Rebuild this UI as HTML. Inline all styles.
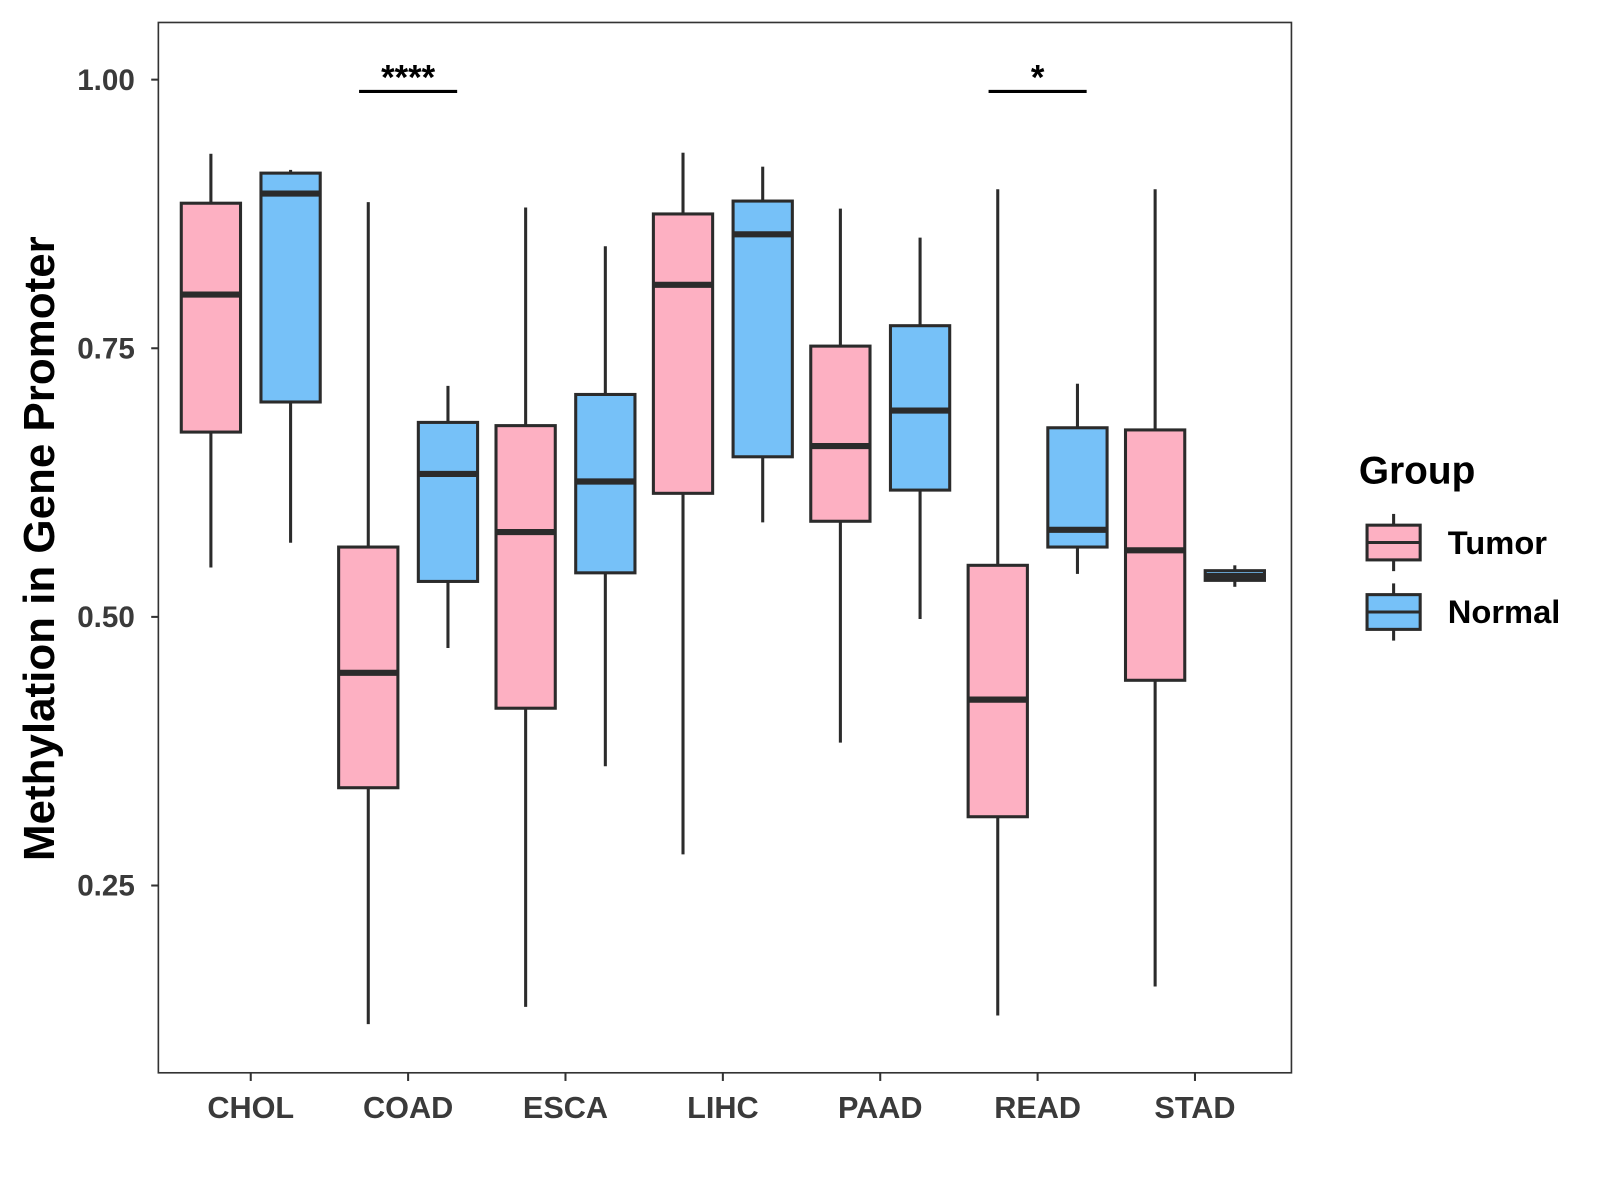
<!DOCTYPE html>
<html><head><meta charset="utf-8"><style>html,body{margin:0;padding:0;background:#fff;}svg{display:block}</style></head>
<body>
<svg id="chart" width="1600" height="1200" viewBox="0 0 1566 1174.5" xmlns="http://www.w3.org/2000/svg" font-family="'Liberation Sans', sans-serif">
<rect width="1566" height="1174.5" fill="#fff"/>
<g id="plot"></g>
</svg>
<script>
const categories = ["CHOL","COAD","ESCA","LIHC","PAAD","READ","STAD"];
// [whiskerHigh, Q3, median, Q1, whiskerLow]
const tumorStats = [
 [0.931,0.885,0.800,0.672,0.546],
 [0.886,0.565,0.448,0.341,0.121],
 [0.881,0.678,0.579,0.415,0.137],
 [0.932,0.875,0.809,0.615,0.279],
 [0.880,0.752,0.659,0.589,0.383],
 [0.898,0.548,0.423,0.314,0.129],
 [0.898,0.674,0.562,0.441,0.156]
];
const normalStats = [
 [0.916,0.913,0.894,0.700,0.569],
 [0.715,0.681,0.633,0.533,0.471],
 [0.845,0.707,0.626,0.541,0.361],
 [0.919,0.887,0.856,0.649,0.588],
 [0.853,0.771,0.692,0.618,0.498],
 [0.717,0.676,0.581,0.565,0.540],
 [0.548,0.543,0.538,0.534,0.528]
];
const yTicks = [0.25,0.50,0.75,1.00];
const yTickLabels = ["0.25","0.50","0.75","1.00"];
const sigCats = ["COAD","READ"];
const sigLabels = ["****","*"];
const sigLevel = [0.989, 0.989];

const NS="http://www.w3.org/2000/svg";
const g=document.getElementById('plot');
const L=155,R=1264,T=22,B=1050;
const yMin=0.0757,yMax=1.0532;
function y(v){return B-(v-yMin)/(yMax-yMin)*(B-T);}
const unit=(R-L)/(categories.length-1+1.2);
function x(i){return L+unit*(0.6+i)-2;}
function el(tag,attrs,parent){const e=document.createElementNS(NS,tag);for(const k in attrs)e.setAttribute(k,attrs[k]);(parent||g).appendChild(e);return e;}

const panel=el('rect',{x:L,y:T,width:R-L,height:B-T,fill:'#fff',stroke:'#333','stroke-width':1.6});



yTicks.forEach((t,i)=>{
 const tk=el('line',{x1:L-7,x2:L,y1:y(t),y2:y(t),stroke:'#333','stroke-width':2});
 
 
 const tx=el('text',{x:L-23,y:y(t)+10,'text-anchor':'end','font-size':29,'font-weight':'bold',fill:'#3a3a3a'});
 tx.textContent=yTickLabels[i];
 
 
});
categories.forEach((c,i)=>{
 const cx=x(i);
 const tk=el('line',{x1:cx,x2:cx,y1:B,y2:B+8,stroke:'#333','stroke-width':2});
 
 
 const tx=el('text',{x:cx,y:B+44,'text-anchor':'middle','font-size':30,'font-weight':'bold',fill:'#3a3a3a'});
 tx.textContent=c;
 
 
});

function drawBox(cx,s,fill,name){
 const grp=el('g',{});
 
 
 const w=58;
 el('line',{x1:cx,x2:cx,y1:y(s[0]),y2:y(s[1]),stroke:'#2b2b2b','stroke-width':3},grp);
 el('line',{x1:cx,x2:cx,y1:y(s[3]),y2:y(s[4]),stroke:'#2b2b2b','stroke-width':3},grp);
 el('rect',{x:cx-w/2,y:y(s[1]),width:w,height:Math.max(0.5,y(s[3])-y(s[1])),fill:fill,stroke:'#2b2b2b','stroke-width':3},grp);
 el('line',{x1:cx-w/2,x2:cx+w/2,y1:y(s[2]),y2:y(s[2]),stroke:'#2b2b2b','stroke-width':6},grp);
}
categories.forEach((c,i)=>{
 drawBox(x(i)-39,tumorStats[i],'#FDB0C2','box-tumor-'+c.toLowerCase());
 drawBox(x(i)+39,normalStats[i],'#76C1F8','box-normal-'+c.toLowerCase());
});

sigCats.forEach((c,k)=>{
 const i=categories.indexOf(c);
 const ln=el('line',{x1:x(i)-48,x2:x(i)+48,y1:y(sigLevel[k]),y2:y(sigLevel[k]),stroke:'#000','stroke-width':3});
 
 
 const tx=el('text',{x:x(i),y:y(sigLevel[k])-2,'text-anchor':'middle','font-size':34,'font-weight':'bold',fill:'#000'});
 tx.textContent=sigLabels[k];
 
 
});

const yt=el('text',{x:0,y:0,transform:'translate(53,537) rotate(-90)','text-anchor':'middle','font-size':43,'font-weight':'bold',fill:'#000'});
yt.textContent='Methylation in Gene Promoter';



const lg=el('g',{});


const lt=el('text',{x:1330,y:473,'font-size':38,'font-weight':'bold',fill:'#000'},lg);
lt.textContent='Group';


[['Tumor','#FDB0C2',531],['Normal','#76C1F8',599]].forEach(([lab,col,cy])=>{
 const e=el('g',{},lg);
 
 
 el('line',{x1:1364,x2:1364,y1:cy-28,y2:cy+28,stroke:'#2b2b2b','stroke-width':3},e);
 el('rect',{x:1338,y:cy-17,width:52,height:34,fill:col,stroke:'#2b2b2b','stroke-width':3},e);
 el('line',{x1:1338,x2:1390,y1:cy,y2:cy,stroke:'#2b2b2b','stroke-width':3},e);
 const t=el('text',{x:1417,y:cy+11,'font-size':32,'font-weight':'bold',fill:'#000'},e);
 t.textContent=lab;
});
</script>
</body></html>
